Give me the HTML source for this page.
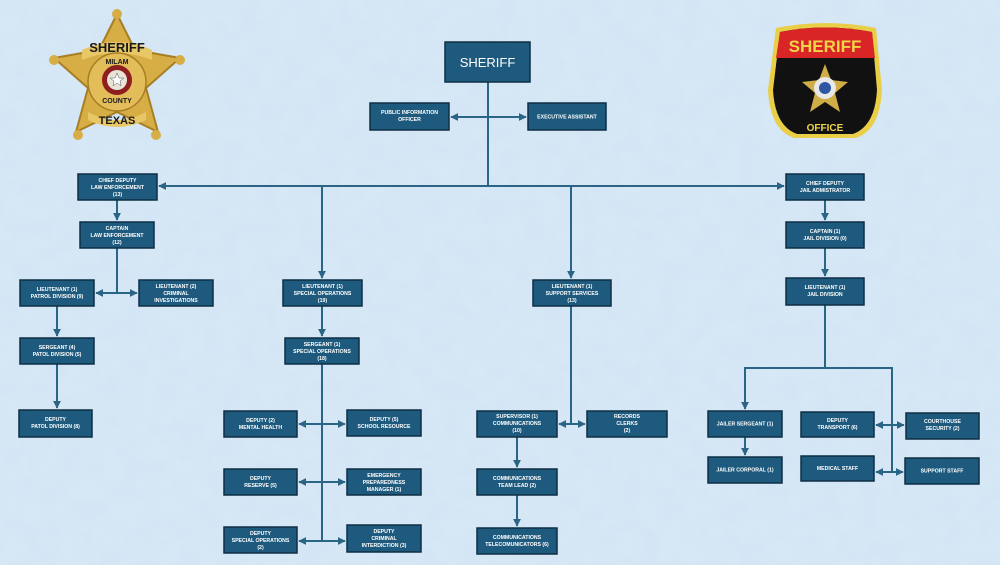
<!DOCTYPE html>
<html><head><meta charset="utf-8"><style>
html,body{margin:0;padding:0;width:1000px;height:565px;overflow:hidden;background:#d3e5f4}
svg{display:block}
.b{fill:#1e5a7d;stroke:#0e2e45;stroke-width:1.5}
.t{fill:#fff;font-family:"Liberation Sans",sans-serif;font-weight:bold;font-size:5.2px;text-anchor:middle}
.l{stroke:#2b6586;stroke-width:2;fill:none}
</style></head><body>
<svg width="1000" height="565" viewBox="0 0 1000 565" xmlns="http://www.w3.org/2000/svg">
<defs>
<marker id="a" viewBox="0 0 10 10" refX="9" refY="5" markerWidth="4" markerHeight="4" orient="auto-start-reverse"><path d="M0,0L10,5L0,10z" fill="#2b6586"/></marker>
<filter id="n"><feTurbulence type="fractalNoise" baseFrequency="0.05" numOctaves="4" seed="3"/><feColorMatrix values="0 0 0 0 0.70  0 0 0 0 0.82  0 0 0 0 0.93  0 0 0 1.1 -0.3"/></filter>
</defs>
<rect width="1000" height="565" fill="#d4e6f5"/>
<rect width="1000" height="565" filter="url(#n)" opacity="0.8"/>

<!-- connectors -->
<path class="l" d="M488,82V186"/>
<path class="l" d="M488,117H451" marker-end="url(#a)"/>
<path class="l" d="M488,117H526" marker-end="url(#a)"/>
<path class="l" d="M488,186H159" marker-end="url(#a)"/>
<path class="l" d="M488,186H784" marker-end="url(#a)"/>
<path class="l" d="M322,186V278" marker-end="url(#a)"/>
<path class="l" d="M571,186V278" marker-end="url(#a)"/>
<path class="l" d="M117,200V220" marker-end="url(#a)"/>
<path class="l" d="M117,248V293"/>
<path class="l" d="M117,293H96" marker-end="url(#a)"/>
<path class="l" d="M117,293H137" marker-end="url(#a)"/>
<path class="l" d="M57,306V336" marker-end="url(#a)"/>
<path class="l" d="M57,364V408" marker-end="url(#a)"/>
<path class="l" d="M322,306V336" marker-end="url(#a)"/>
<path class="l" d="M322,364V541"/>
<path class="l" d="M322,424H299" marker-end="url(#a)"/><path class="l" d="M322,424H345" marker-end="url(#a)"/>
<path class="l" d="M322,482H299" marker-end="url(#a)"/><path class="l" d="M322,482H345" marker-end="url(#a)"/>
<path class="l" d="M322,541H299" marker-end="url(#a)"/><path class="l" d="M322,541H345" marker-end="url(#a)"/>
<path class="l" d="M571,306V424"/>
<path class="l" d="M571,424H559" marker-end="url(#a)"/><path class="l" d="M571,424H585" marker-end="url(#a)"/>
<path class="l" d="M517,437V467" marker-end="url(#a)"/>
<path class="l" d="M517,495V526" marker-end="url(#a)"/>
<path class="l" d="M825,200V220" marker-end="url(#a)"/>
<path class="l" d="M825,248V276" marker-end="url(#a)"/>
<path class="l" d="M825,305V368H745V409" marker-end="url(#a)"/>
<path class="l" d="M825,368H892V472"/>
<path class="l" d="M745,437V455" marker-end="url(#a)"/>
<path class="l" d="M892,425H876" marker-end="url(#a)"/><path class="l" d="M892,425H904" marker-end="url(#a)"/>
<path class="l" d="M892,472H876" marker-end="url(#a)"/><path class="l" d="M892,472H903" marker-end="url(#a)"/>

<!-- boxes -->
<rect class="b" x="445" y="42" width="85" height="40"/><text class="t" x="487.5" y="67" style="font-size:13px;font-weight:normal">SHERIFF</text>
<rect class="b" x="370" y="103" width="79" height="27"/><text class="t" x="409.5" y="114">PUBLIC INFORMATION</text><text class="t" x="409.5" y="121">OFFICER</text>
<rect class="b" x="528" y="103" width="78" height="27"/><text class="t" x="567" y="118.5">EXECUTIVE ASSISTANT</text>

<rect class="b" x="78" y="174" width="79" height="26"/><text class="t" x="117.5" y="182">CHIEF DEPUTY</text><text class="t" x="117.5" y="189">LAW ENFORCEMENT</text><text class="t" x="117.5" y="196">(13)</text>
<rect class="b" x="80" y="222" width="74" height="26"/><text class="t" x="117" y="230">CAPTAIN</text><text class="t" x="117" y="237">LAW ENFORCEMENT</text><text class="t" x="117" y="244">(12)</text>
<rect class="b" x="20" y="280" width="74" height="26"/><text class="t" x="57" y="291">LIEUTENANT (1)</text><text class="t" x="57" y="298">PATROL DIVISION (9)</text>
<rect class="b" x="139" y="280" width="74" height="26"/><text class="t" x="176" y="288">LIEUTENANT (2)</text><text class="t" x="176" y="295">CRIMINAL</text><text class="t" x="176" y="302">INVESTIGATIONS</text>
<rect class="b" x="20" y="338" width="74" height="26"/><text class="t" x="57" y="349">SERGEANT (4)</text><text class="t" x="57" y="356">PATOL DIVISION (5)</text>
<rect class="b" x="19" y="410" width="73" height="27"/><text class="t" x="55.5" y="421">DEPUTY</text><text class="t" x="55.5" y="428">PATOL DIVISION (8)</text>

<rect class="b" x="283" y="280" width="79" height="26"/><text class="t" x="322.5" y="288">LIEUTENANT (1)</text><text class="t" x="322.5" y="295">SPECIAL OPERATIONS</text><text class="t" x="322.5" y="302">(19)</text>
<rect class="b" x="285" y="338" width="74" height="26"/><text class="t" x="322" y="346">SERGEANT (1)</text><text class="t" x="322" y="353">SPECIAL OPERATIONS</text><text class="t" x="322" y="360">(18)</text>
<rect class="b" x="224" y="411" width="73" height="26"/><text class="t" x="260.5" y="422">DEPUTY (2)</text><text class="t" x="260.5" y="429">MENTAL HEALTH</text>
<rect class="b" x="347" y="410" width="74" height="26"/><text class="t" x="384" y="421">DEPUTY (5)</text><text class="t" x="384" y="428">SCHOOL RESOURCE</text>
<rect class="b" x="224" y="469" width="73" height="26"/><text class="t" x="260.5" y="480">DEPUTY</text><text class="t" x="260.5" y="487">RESERVE (5)</text>
<rect class="b" x="347" y="469" width="74" height="26"/><text class="t" x="384" y="477">EMERGENCY</text><text class="t" x="384" y="484">PREPAREDNESS</text><text class="t" x="384" y="491">MANAGER (1)</text>
<rect class="b" x="224" y="527" width="73" height="26"/><text class="t" x="260.5" y="535">DEPUTY</text><text class="t" x="260.5" y="542">SPECIAL OPERATIONS</text><text class="t" x="260.5" y="549">(2)</text>
<rect class="b" x="347" y="525" width="74" height="27"/><text class="t" x="384" y="533">DEPUTY</text><text class="t" x="384" y="540">CRIMINAL</text><text class="t" x="384" y="547">INTERDICTION (3)</text>

<rect class="b" x="533" y="280" width="78" height="26"/><text class="t" x="572" y="288">LIEUTENANT (1)</text><text class="t" x="572" y="295">SUPPORT SERVICES</text><text class="t" x="572" y="302">(13)</text>
<rect class="b" x="477" y="411" width="80" height="26"/><text class="t" x="517" y="418">SUPERVISOR (1)</text><text class="t" x="517" y="425">COMMUNICATIONS</text><text class="t" x="517" y="432">(10)</text>
<rect class="b" x="587" y="411" width="80" height="26"/><text class="t" x="627" y="418">RECORDS</text><text class="t" x="627" y="425">CLERKS</text><text class="t" x="627" y="432">(2)</text>
<rect class="b" x="477" y="469" width="80" height="26"/><text class="t" x="517" y="480">COMMUNICATIONS</text><text class="t" x="517" y="487">TEAM LEAD (2)</text>
<rect class="b" x="477" y="528" width="80" height="26"/><text class="t" x="517" y="539">COMMUNICATIONS</text><text class="t" x="517" y="546">TELECOMUNICATORS (6)</text>

<rect class="b" x="786" y="174" width="78" height="26"/><text class="t" x="825" y="185">CHIEF DEPUTY</text><text class="t" x="825" y="192">JAIL ADMISTRATOR</text>
<rect class="b" x="786" y="222" width="78" height="26"/><text class="t" x="825" y="233">CAPTAIN (1)</text><text class="t" x="825" y="240">JAIL DIVISION (0)</text>
<rect class="b" x="786" y="278" width="78" height="27"/><text class="t" x="825" y="289">LIEUTENANT (1)</text><text class="t" x="825" y="296">JAIL DIVISION</text>
<rect class="b" x="708" y="411" width="74" height="26"/><text class="t" x="745" y="425.5">JAILER SERGEANT (1)</text>
<rect class="b" x="708" y="457" width="74" height="26"/><text class="t" x="745" y="471.5">JAILER CORPORAL (1)</text>
<rect class="b" x="801" y="412" width="73" height="25"/><text class="t" x="837.5" y="422">DEPUTY</text><text class="t" x="837.5" y="429">TRANSPORT (6)</text>
<rect class="b" x="906" y="413" width="73" height="26"/><text class="t" x="942.5" y="423">COURTHOUSE</text><text class="t" x="942.5" y="430">SECURITY (2)</text>
<rect class="b" x="801" y="456" width="73" height="25"/><text class="t" x="837.5" y="470">MEDICAL STAFF</text>
<rect class="b" x="905" y="458" width="74" height="26"/><text class="t" x="942" y="472.5">SUPPORT STAFF</text>

<!-- left badge -->
<g>
<polygon points="117,14 135,50 180,58 146,88 158,132 117,112 76,132 88,88 54,58 99,50" fill="#d7ad45" stroke="#a67f24" stroke-width="2" stroke-linejoin="round"/>
<circle cx="117" cy="14" r="5" fill="#d7ad45"/><circle cx="54" cy="60" r="5" fill="#d7ad45"/><circle cx="180" cy="60" r="5" fill="#d7ad45"/><circle cx="78" cy="135" r="5" fill="#d7ad45"/><circle cx="156" cy="135" r="5" fill="#d7ad45"/>
<path d="M82,50 Q117,34 152,50 L152,60 Q117,46 82,60z" fill="#e8c766"/>
<path d="M88,112 Q117,128 146,112 L146,120 Q117,134 88,120z" fill="#e8c766"/>
<circle cx="117" cy="82" r="29" fill="#e2bd5a" stroke="#a67f24" stroke-width="1.5"/>
<circle cx="117" cy="80" r="15" fill="#8d1f1f"/><circle cx="117" cy="80" r="10" fill="#e8e4d8"/>
<polygon points="117,73 119,78 124,78 120,81 121,86 117,83 113,86 114,81 110,78 115,78" fill="#fff" stroke="#555" stroke-width="0.5"/>
<text x="117" y="52" font-family="Liberation Sans,sans-serif" font-weight="bold" font-size="13" text-anchor="middle" fill="#1a1a1a">SHERIFF</text>
<text x="117" y="64" font-family="Liberation Sans,sans-serif" font-weight="bold" font-size="7" text-anchor="middle" fill="#1a1a1a">MILAM</text>
<text x="117" y="103" font-family="Liberation Sans,sans-serif" font-weight="bold" font-size="7" text-anchor="middle" fill="#1a1a1a">COUNTY</text>
<text x="117" y="124" font-family="Liberation Sans,sans-serif" font-weight="bold" font-size="11" text-anchor="middle" fill="#1a1a1a">TEXAS</text>
</g>

<!-- right patch -->
<g>
<path d="M776,28 Q825,18 876,28 L882,90 Q880,130 856,138 L794,138 Q770,130 768,90z" fill="#e9cf48"/>
<path d="M780,32 Q825,23 872,32 L877,90 Q875,126 853,134 L797,134 Q775,126 773,90z" fill="#111"/>
<path d="M780,32 Q825,23 872,32 L875,58 L776,58z" fill="#d92525"/>
<text x="825" y="52" font-family="Liberation Sans,sans-serif" font-weight="bold" font-size="17" text-anchor="middle" fill="#f0d54a">SHERIFF</text>
<polygon points="825,64 831,80 848,82 835,93 840,112 825,102 810,112 815,93 802,82 819,80" fill="#cfae45"/>
<circle cx="825" cy="88" r="11" fill="#e8e8e8"/><circle cx="825" cy="88" r="6" fill="#2d57a5"/>
<text x="825" y="131" font-family="Liberation Sans,sans-serif" font-weight="bold" font-size="10" text-anchor="middle" fill="#f0d54a">OFFICE</text>
</g>
</svg>
</body></html>
